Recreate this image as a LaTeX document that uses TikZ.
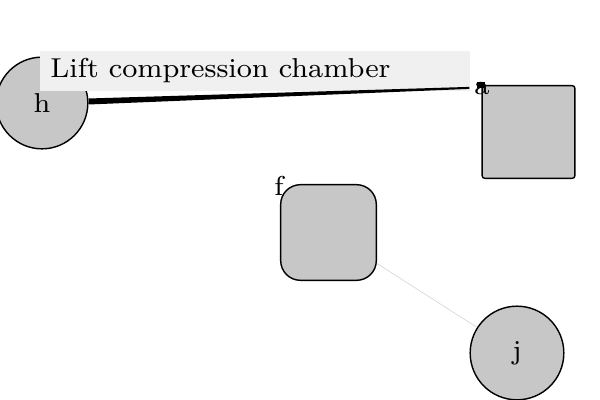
\documentclass[tikz,border=0pt]{standalone}
\usetikzlibrary{arrows.meta,calc}
\newcommand{\dtext}[1]{\scalebox{2.53}[2.43]{\fontsize{8}{9.6}\selectfont #1}}
\begin{document}
\begin{tikzpicture}[x=0.025cm,y=-0.025cm,
  shapebox/.style={draw=black, line width=1pt, fill=black!22, inner sep=0pt},
  roundnode/.style={shapebox, circle},
  squarenode/.style={shapebox, rectangle, rounded corners=2pt},
  softnode/.style={shapebox, rectangle, rounded corners=14pt},
  tag/.style={inner sep=0pt},
  faintedge/.style={draw=black!18, line width=0.4pt},
  edgelabel/.style={fill=black!6, inner xsep=7pt, inner ysep=0pt, minimum height=28.3pt, minimum width=305.5pt, anchor=west}
]
\useasboundingbox (0,0) rectangle (600,400);
\node[roundnode, minimum size=65.2pt] (h) at (42,103) {\dtext{h}};
\node[squarenode, minimum size=66pt] (a) at (528.5,132) {};
\node[softnode, minimum size=68pt] (f) at (328.5,232.5) {};
\node[roundnode, minimum size=66.6pt] (j) at (517,353) {\dtext{j}};
\node[tag] (la) at (482,89) {\dtext{a}};
\node[tag] (lf) at (279,186) {\dtext{f}};
\draw[faintedge] (f) -- (j);
\node[edgelabel] (lab) at (40,71) {\makebox[291pt][l]{\dtext{Lift compression chamber}}};
\fill[black] ($(h.east)+(0,-4.5)$) -- ($(a.north west)+(-12,2)$) -- ($(a.north west)+(-12,4)$) -- ($(h.east)+(0,1.5)$) -- cycle;
\fill[black] ($(a.north west)+(-4,-3)$) rectangle ($(a.north west)+(4,3)$);
\end{tikzpicture}
\end{document}
